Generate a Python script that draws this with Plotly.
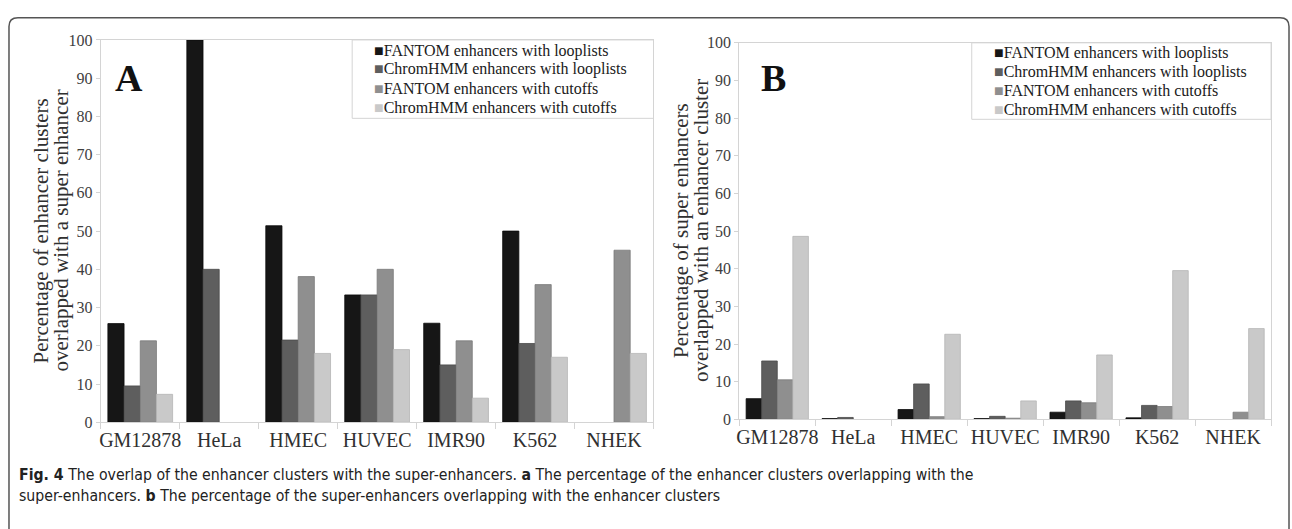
import plotly.graph_objects as go

# ---------------- data ----------------
categories = ["GM12878", "HeLa", "HMEC", "HUVEC", "IMR90", "K562", "NHEK"]
series_names = [
    "FANTOM enhancers with looplists",
    "ChromHMM enhancers with looplists",
    "FANTOM enhancers with cutoffs",
    "ChromHMM enhancers with cutoffs",
]
# Panel A: % of enhancer clusters overlapped with a super enhancer
a_fantom_loop = [25.8, 100.0, 51.4, 33.3, 25.9, 50.0, 0.0]
a_chrom_loop = [9.5, 40.0, 21.5, 33.3, 15.0, 20.6, 0.0]
a_fantom_cut = [21.3, 0.0, 38.1, 40.0, 21.3, 36.0, 45.0]
a_chrom_cut = [7.3, 0.0, 18.0, 19.0, 6.3, 17.0, 18.0]
# Panel B: % of super enhancers overlapped with an enhancer cluster
b_fantom_loop = [5.5, 0.2, 2.6, 0.2, 1.9, 0.4, 0.0]
b_chrom_loop = [15.5, 0.5, 9.4, 0.8, 4.9, 3.7, 0.0]
b_fantom_cut = [10.5, 0.0, 0.7, 0.3, 4.4, 3.4, 1.9]
b_chrom_cut = [48.6, 0.0, 22.6, 4.9, 17.1, 39.5, 24.1]
y_ticks = [0, 10, 20, 30, 40, 50, 60, 70, 80, 90, 100]

caption_line1 = ("<b>Fig. 4</b> The overlap of the enhancer clusters with the super-enhancers. "
                 "<b>a</b> The percentage of the enhancer clusters overlapping with the")
caption_line2 = ("super-enhancers. <b>b</b> The percentage of the super-enhancers overlapping "
                 "with the enhancer clusters")
ytitle_a = ["Percentage of enhancer clusters", "overlapped with a super enhancer"]
ytitle_b = ["Percentage of super enhancers", "overlapped with an enhancer cluster"]

# ---------------- style ----------------
W, H = 1292, 529
fills = ["#161616", "#5e5e5e", "#8f8f8f", "#c9c9c9"]
edges = ["#0a0a0a", "#4a4a4a", "#7a7a7a", "#b5b5b5"]
SERIF = "Liberation Serif, Times New Roman, serif"
SANS_N = "Liberation Sans Narrow, Arial Narrow, DejaVu Sans Condensed, Noto Sans, sans-serif"
AX = "#d4d4d4"


def px(x):
    return x / W


def py(y):
    return 1 - y / H


fig = go.Figure()

panel_a = [a_fantom_loop, a_chrom_loop, a_fantom_cut, a_chrom_cut]
panel_b = [b_fantom_loop, b_chrom_loop, b_fantom_cut, b_chrom_cut]


def outline_widths(vals):
    # no outline for empty (zero) bars, so they leave no trace on the axis
    return [0.8 if v > 0 else 0 for v in vals]


for i, vals in enumerate(panel_a):
    fig.add_trace(go.Bar(x=categories, y=vals, name=series_names[i],
                         marker=dict(color=fills[i],
                                     line=dict(color=edges[i], width=outline_widths(vals))),
                         xaxis="x", yaxis="y", showlegend=False))
for i, vals in enumerate(panel_b):
    fig.add_trace(go.Bar(x=categories, y=vals, name=series_names[i],
                         marker=dict(color=fills[i],
                                     line=dict(color=edges[i], width=outline_widths(vals))),
                         xaxis="x2", yaxis="y2", showlegend=False))

xcommon = dict(type="category", showline=True, linecolor=AX, linewidth=1, mirror=True,
               ticks="outside", tickson="boundaries", ticklen=6, tickcolor=AX, tickangle=0,
               tickfont=dict(family=SERIF, size=20, color="#303030"), showgrid=False,
               zeroline=False, fixedrange=True)
ycommon = dict(range=[0, 100], tickvals=y_ticks, showline=True, linecolor=AX, linewidth=1,
               mirror=True, ticks="outside", ticklen=4, tickcolor=AX,
               tickfont=dict(family=SERIF, size=16, color="#404040"), showgrid=False,
               zeroline=False, fixedrange=True)

fig.update_layout(
    width=W, height=H,
    margin=dict(l=0, r=0, t=0, b=0),
    paper_bgcolor="white", plot_bgcolor="white",
    barmode="group", bargap=0.18, bargroupgap=0.0,
    xaxis=dict(domain=[px(98), px(652)], anchor="y", **xcommon),
    yaxis=dict(domain=[py(428), py(33)], anchor="x", **ycommon),
    xaxis2=dict(domain=[px(738), px(1271)], anchor="y2", **xcommon),
    yaxis2=dict(domain=[py(425), py(36)], anchor="x2", **ycommon),
    showlegend=False,
)

shapes = []
ann = []

# legend boxes + entries (one box per panel)
legend_specs = [
    # box left, box right, box top, box bottom, row centres
    (350, 652, 33, 114, [44, 63.5, 83, 102.5]),
    (971, 1271, 36, 115, [46.5, 66, 85.5, 105]),
]
for bx0, bx1, by0, by1, rows in legend_specs:
    shapes.append(dict(type="rect", xref="paper", yref="paper",
                       x0=px(bx0), x1=px(bx1), y0=py(by1), y1=py(by0),
                       line=dict(color=AX, width=1), fillcolor="white", layer="below"))
    for i, ry in enumerate(rows):
        ann.append(dict(
            text=f"<span style='color:{fills[i]}'>\u25A0</span>{series_names[i]}",
            x=px(bx0 + 20), y=py(ry), xref="paper", yref="paper",
            xanchor="left", yanchor="middle", showarrow=False,
            font=dict(family=SERIF, size=16, color="#202020")))

# outer rounded frame (open at the bottom, continues past the image)
x0, x1, y0, yb, r = 6, 1289, 10, 545, 9
path = (f"M {px(x0)},{py(yb)} L {px(x0)},{py(y0 + r)} "
        f"Q {px(x0)},{py(y0)} {px(x0 + r)},{py(y0)} "
        f"L {px(x1 - r)},{py(y0)} Q {px(x1)},{py(y0)} {px(x1)},{py(y0 + r)} "
        f"L {px(x1)},{py(yb)}")
shapes.append(dict(type="path", xref="paper", yref="paper", path=path,
                   line=dict(color="#555555", width=1.5)))
fig.update_layout(shapes=shapes)

# panel letters
ann.append(dict(text="<b>A</b>", x=px(126), y=py(72), xref="paper", yref="paper",
                xanchor="center", yanchor="middle", showarrow=False,
                font=dict(family=SERIF, size=38, color="#111111")))
ann.append(dict(text="<b>B</b>", x=px(772), y=py(72), xref="paper", yref="paper",
                xanchor="center", yanchor="middle", showarrow=False,
                font=dict(family=SERIF, size=38, color="#111111")))
# y titles (two lines each)
for cx, lines, cy in [(38, ytitle_a, 230), (679, ytitle_b, 230)]:
    for k, t in enumerate(lines):
        ann.append(dict(text=t, x=px(cx + 20 * k), y=py(cy), xref="paper", yref="paper",
                        xanchor="center", yanchor="middle", showarrow=False, textangle=-90,
                        font=dict(family=SERIF, size=21, color="#303030")))
# caption
ann.append(dict(text=caption_line1, x=px(14), y=py(482), xref="paper", yref="paper",
                xanchor="left", yanchor="middle", showarrow=False,
                font=dict(family=SANS_N, size=15.7, color="#222222")))
ann.append(dict(text=caption_line2, x=px(14), y=py(504), xref="paper", yref="paper",
                xanchor="left", yanchor="middle", showarrow=False,
                font=dict(family=SANS_N, size=15.7, color="#222222")))
fig.update_layout(annotations=ann)

fig.write_html("out.html",
               config={"displayModeBar": False, "staticPlot": True},
               post_script="document.body.style.margin='0';document.body.style.overflow='hidden';")
